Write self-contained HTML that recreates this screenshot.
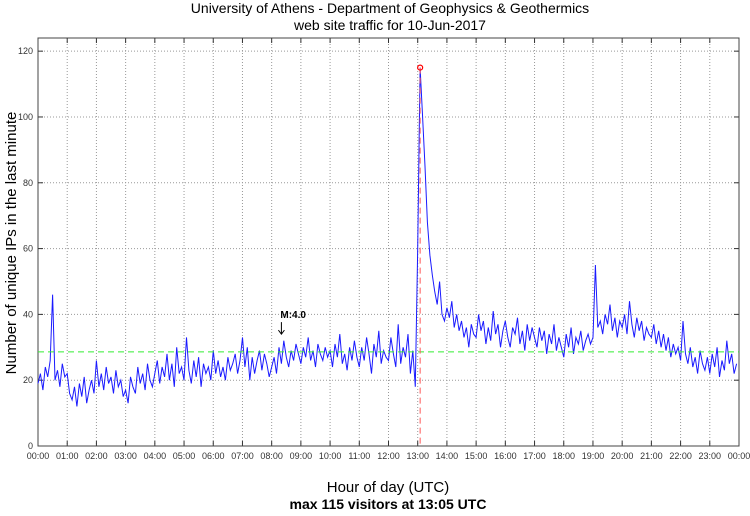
<!DOCTYPE html>
<html><head><meta charset="utf-8"><style>
body{margin:0;background:#fff;width:750px;height:511px;overflow:hidden}
text{font-family:"Liberation Sans",sans-serif}
</style></head><body>
<svg id="chart" width="750" height="511" xmlns="http://www.w3.org/2000/svg">
<text x="390" y="13" font-size="14" text-anchor="middle">University of Athens - Department of Geophysics &amp; Geothermics</text>
<text x="390" y="30" font-size="14" text-anchor="middle">web site traffic for 10-Jun-2017</text>
<g id="grid"></g>
<g id="axes"></g>
<g id="series"></g>
<text x="388" y="492" font-size="15" text-anchor="middle">Hour of day (UTC)</text>
<text x="388" y="509" font-size="14" font-weight="bold" text-anchor="middle">max 115 visitors at 13:05 UTC</text>
<text transform="translate(16,243) rotate(-90)" font-size="15" text-anchor="middle">Number of unique IPs in the last minute</text>
</svg>
<script>
const yTicks=[0,20,40,60,80,100,120];
const hourLabels=["00:00","01:00","02:00","03:00","04:00","05:00","06:00","07:00","08:00","09:00","10:00","11:00","12:00","13:00","14:00","15:00","16:00","17:00","18:00","19:00","20:00","21:00","22:00","23:00","00:00"];
const visitors=[
19,22,17,24,21,26,46,20,23,18,25,21,
22,16,14,18,12,19,15,21,13,17,20,16,
26,18,22,17,24,19,21,16,23,18,20,15,
17,13,21,18,16,24,19,22,17,25,20,18,
22,26,19,24,21,28,20,25,18,30,22,24,
20,33,23,19,26,21,27,18,25,22,24,20,
29,22,26,21,24,20,27,23,25,28,22,26,
33,24,30,20,27,22,26,29,23,28,25,21,
24,27,22,30,25,32,27,24,29,26,31,28,
25,30,27,33,26,29,24,31,28,26,30,27,
29,24,31,27,34,25,28,23,30,26,32,27,
24,30,26,33,28,22,31,27,35,25,29,27,
26,33,28,24,37,25,30,27,34,22,29,18,
60,115,100,85,68,58,52,47,43,50,40,38,
42,39,44,36,40,35,38,33,36,30,37,34,
33,40,35,38,31,36,32,41,34,37,30,35,
38,33,30,36,34,39,31,35,29,37,32,36,
33,30,36,32,35,28,34,31,37,29,33,30,
27,34,30,36,28,33,31,35,29,32,34,31,
33,55,36,38,34,40,37,43,35,39,33,38,
36,40,34,44,37,33,39,35,38,32,36,34,
33,37,31,35,30,34,29,33,27,31,28,30,
26,38,28,25,30,24,27,22,29,25,23,27,
22,28,24,30,21,26,23,32,25,28,22,25];
const stepMinutes=[5];
const meanValue=[28.6];
const peak=[13*60+5,115];
const quake=[8*60+20,34,"M:4.0"];

const L=38,R=739,T=38,B=446,YMAX=124;
const xs=m=>L+(R-L)*m/1440;
const ys=v=>B-(B-T)*v/YMAX;
const NS="http://www.w3.org/2000/svg";
function mk(tag,attrs,parent){const e=document.createElementNS(NS,tag);for(const k in attrs)e.setAttribute(k,attrs[k]);parent.appendChild(e);return e;}
const grid=document.getElementById('grid'),axes=document.getElementById('axes'),series=document.getElementById('series');

yTicks.forEach(v=>{
  const y=ys(v);
  if(v>0){const g=mk('line',{x1:L,x2:R,y1:y,y2:y,stroke:'#999','stroke-dasharray':'1,2'},grid);
  
  }
  mk('line',{x1:L,x2:L+5,y1:y,y2:y,stroke:'#333'},axes);
  mk('line',{x1:R-5,x2:R,y1:y,y2:y,stroke:'#333'},axes);
  const t=mk('text',{x:L-5,y:y+3,'font-size':9,'text-anchor':'end',fill:'#333'},axes);
  t.textContent=v;
  
  
});
hourLabels.forEach((lab,i)=>{
  const x=xs(i*60);
  if(i>0&&i<24){const g=mk('line',{x1:x,x2:x,y1:T,y2:B,stroke:'#999','stroke-dasharray':'1,2'},grid);
  
  }
  mk('line',{x1:x,x2:x,y1:B,y2:B-5,stroke:'#333'},axes);
  mk('line',{x1:x,x2:x,y1:T,y2:T+5,stroke:'#333'},axes);
  const t=mk('text',{x:x,y:B+13,'font-size':9,'text-anchor':'middle',fill:'#333'},axes);
  t.textContent=lab;
  
  
});
mk('rect',{x:L,y:T,width:R-L,height:B-T,fill:'none',stroke:'#444'},axes);

const pts=visitors.map((v,i)=>xs(i*stepMinutes[0]).toFixed(1)+','+ys(v).toFixed(1)).join(' ');
const pl=mk('polyline',{points:pts,fill:'none',stroke:'#1a1aff','stroke-width':1},series);



const ml=mk('line',{x1:L,x2:R,y1:ys(meanValue[0]),y2:ys(meanValue[0]),stroke:'#33ee33','stroke-dasharray':'6,4'},series);



const pv=mk('line',{x1:xs(peak[0]),x2:xs(peak[0]),y1:ys(peak[1]),y2:B,stroke:'#ff5555','stroke-dasharray':'6,4'},series);


const pm=mk('circle',{cx:xs(peak[0]),cy:ys(peak[1]),r:2.5,fill:'none',stroke:'#f00','stroke-width':1.2},series);



const qx=xs(quake[0]),qy=ys(quake[1]);
const qa=mk('path',{d:`M${qx},${qy-12} L${qx},${qy} M${qx-3},${qy-4} L${qx},${qy} L${qx+3},${qy-4}`,stroke:'#000',fill:'none'},series);


const qt=mk('text',{x:qx-1,y:qy-16,'font-size':10,'font-weight':'bold'},series);
qt.textContent=quake[2];


</script>
</body></html>
